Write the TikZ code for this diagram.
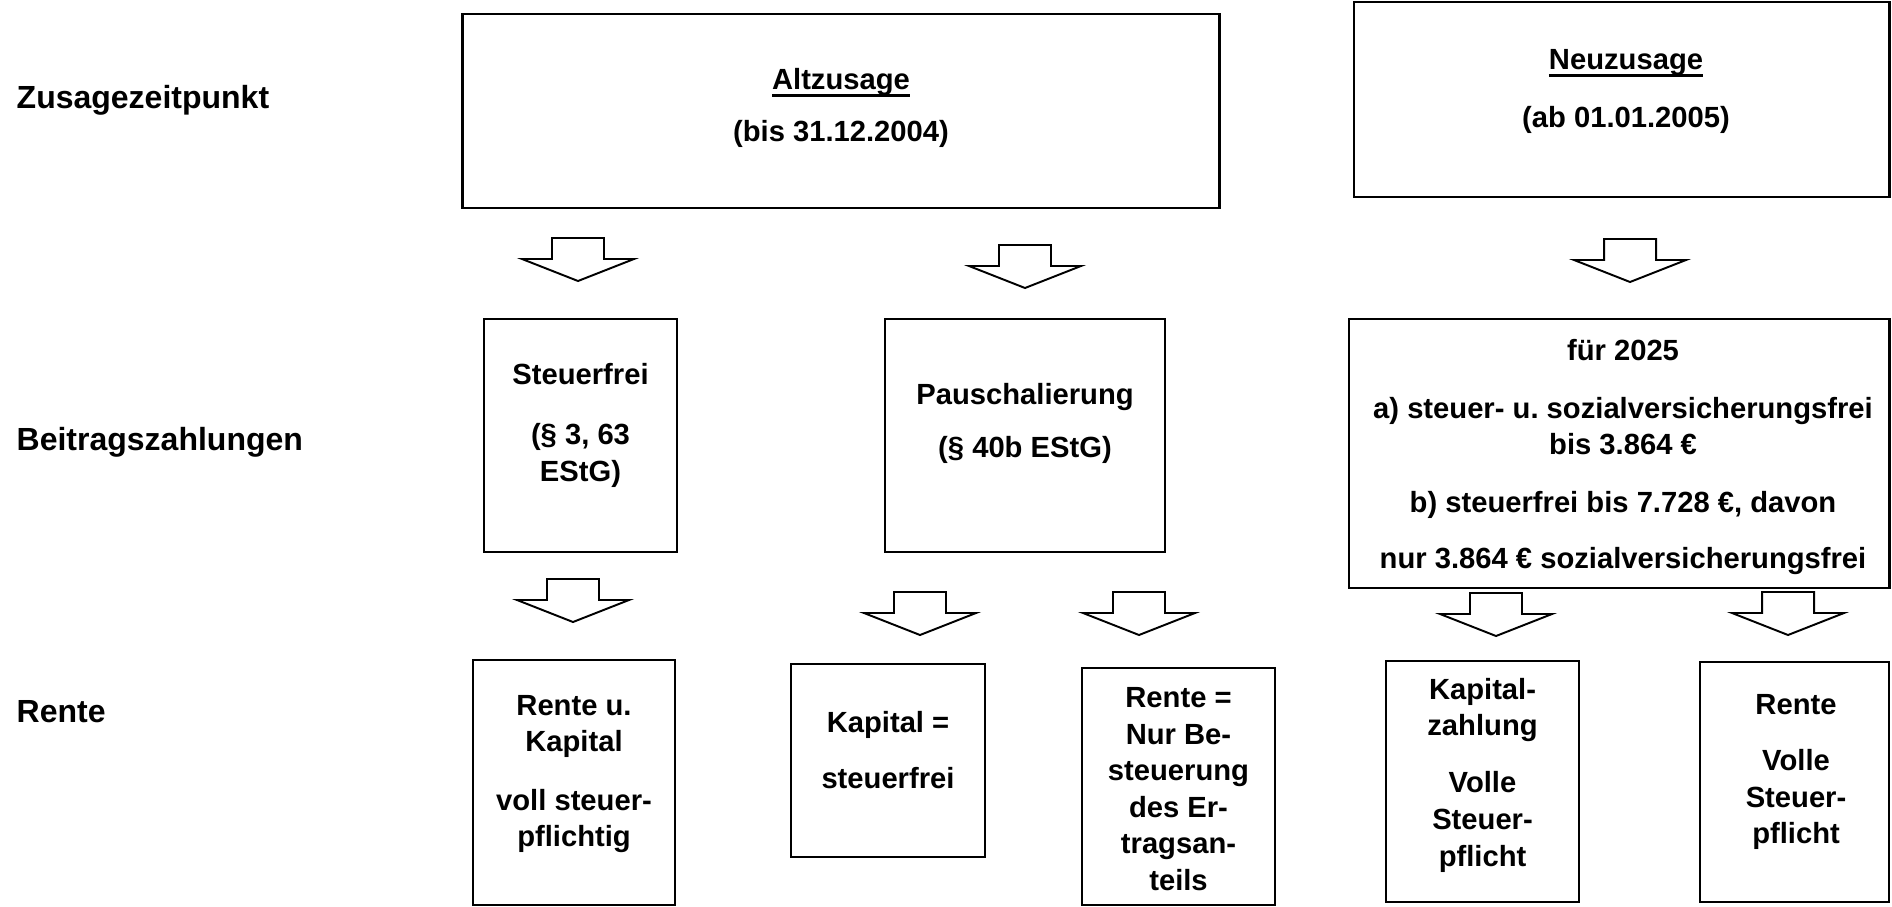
\documentclass[tikz,border=0pt]{standalone}
\usepackage{fontspec}
\setmainfont{Liberation Sans}
\newcommand{\unterstr}[1]{\setbox0\hbox{#1}\rlap{\rule[-2.2pt]{\wd0}{0.9pt}}\box0}
\newcommand{\blockpfeil}[2]{%
  \draw[pfeil] (#1-26,#2) -- (#1+26,#2) -- (#1+26,#2+21) -- (#1+56,#2+21)
    -- (#1,#2+43) -- (#1-56,#2+21) -- (#1-26,#2+21) -- cycle;}
\begin{document}
\begin{tikzpicture}[x=0.01cm, y=-0.01cm,
        kasten/.style={draw, line width=0.75pt, inner sep=0pt},
        txt/.style={align=center, inner sep=0pt, font=\fontsize{8.3}{10.4}\selectfont\bfseries},
        zeile/.style={anchor=base west, inner sep=0pt, font=\fontsize{9.1}{11}\selectfont\bfseries},
        pfeil/.style={line width=0.55pt, line join=miter}]
                \useasboundingbox (0,0) rectangle (1892,906);
                % Zeilen links
                \node[zeile] (zusage) at (16,108) {Zusagezeitpunkt};
                \node[zeile] (beitrag) at (16,450) {Beitragszahlungen};
                \node[zeile] (rente) at (16,722) {Rente};
                % Zusagezeitpunkt
                \node[kasten, minimum width=7.56cm, minimum height=1.94cm] (alt) at (841,111) {};
                \node[txt] (alt-t) at (841,108) {\unterstr{Altzusage}\\[4.4pt](bis 31.12.2004)};
                \node[kasten, minimum width=5.35cm, minimum height=1.95cm] (neu) at (1621.5,99.5) {};
                \node[txt] (neu-t) at (1626,91) {\unterstr{Neuzusage}\\[6.1pt](ab 01.01.2005)};
                \blockpfeil{578}{238}
                \blockpfeil{1025}{245}
                \blockpfeil{1630}{239}
                % Beitragszahlungen
                \node[kasten, minimum width=1.93cm, minimum height=2.33cm] (frei) at (580.5,435.5) {};
                \node[txt] (frei-t) at (580.5,425) {Steuerfrei\\[6.8pt](§ 3, 63\\EStG)};
                \node[kasten, minimum width=2.80cm, minimum height=2.33cm] (pausch) at (1025,435.5) {};
                \node[txt] (pausch-t) at (1025,423.5) {Pauschalierung\\[4.8pt](§ 40b EStG)};
                \node[kasten, minimum width=5.40cm, minimum height=2.69cm] (neu2025) at (1619,453.5) {};
                \node[txt] (neu2025-k) at (1623,350) {für 2025};
                \node[txt] (neu2025-t) at (1623,486) {a) steuer- u.\ sozialversicherungsfrei\\bis 3.864 €\\[6pt]
                    b) steuerfrei bis 7.728 €, davon\\[5.7pt]nur 3.864 € sozialversicherungsfrei};
                \blockpfeil{573}{579}
                \blockpfeil{920}{592}
                \blockpfeil{1139}{592}
                \blockpfeil{1496}{593}
                \blockpfeil{1788}{592}
                % Rente
                \node[kasten, minimum width=2.02cm, minimum height=2.45cm] (rk) at (574,782.5) {};
                \node[txt] (rk-t) at (574,774) {Rente u.\\Kapital\\[6.2pt]voll steuer-\\pflichtig};
                \node[kasten, minimum width=1.94cm, minimum height=1.93cm] (kap) at (888,760.5) {};
                \node[txt] (kap-t) at (888,750) {Kapital =\\[5.7pt]steuerfrei};
                \node[kasten, minimum width=1.93cm, minimum height=2.37cm] (ertrag) at (1178.5,786.5) {};
                \node[txt] (ertrag-t) at (1178.5,789) {Rente =\\Nur Be-\\steuerung\\des Er-\\tragsan-\\teils};
                \node[kasten, minimum width=1.93cm, minimum height=2.41cm] (kapz) at (1482.5,781.5) {};
                \node[txt] (kapz-t) at (1482.5,775) {Kapital-\\zahlung\\[5.9pt]Volle\\Steuer-\\pflicht};
                \node[kasten, minimum width=1.89cm, minimum height=2.40cm] (rv) at (1794.5,782) {};
                \node[txt] (rv-t) at (1796,772) {Rente\\[5.7pt]Volle\\Steuer-\\pflicht};
\end{tikzpicture}
\end{document}
